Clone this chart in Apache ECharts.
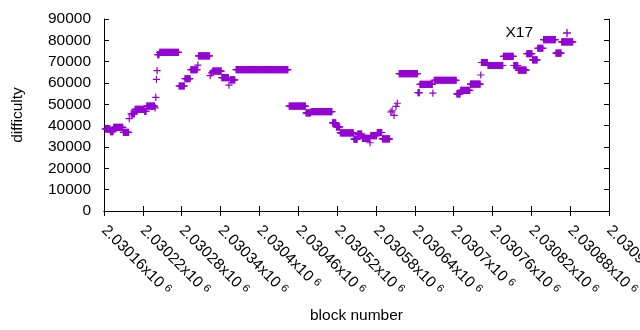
<!DOCTYPE html>
<html>
<head>
<meta charset="utf-8">
<script src="https://cdn.jsdelivr.net/npm/echarts@6/dist/echarts.min.js"></script>
<style>
html, body { margin: 0; padding: 0; background: #fff; }
#chart { width: 640px; height: 330px; }
</style>
</head>
<body>
<div id="chart"></div>
<script>
// runs of equal difficulty: first block, last block, difficulty
var runFrom = [2030162, 2030170, 2030175, 2030190, 2030199, 2030202, 2030208, 2030223, 2030226, 2030239,
    2030240, 2030241, 2030242, 2030243, 2030246, 2030276, 2030285, 2030294, 2030305, 2030306,
    2030324, 2030326, 2030328, 2030342, 2030353, 2030355, 2030364, 2030446, 2030472, 2030480,
    2030513, 2030519, 2030525, 2030546, 2030552, 2030559, 2030571, 2030572, 2030582, 2030590,
    2030603, 2030605, 2030608, 2030611, 2030613, 2030616, 2030645, 2030648, 2030668, 2030670,
    2030705, 2030711, 2030726, 2030742, 2030743, 2030753, 2030777, 2030793, 2030800, 2030813,
    2030822, 2030830, 2030839, 2030858, 2030867];
var runTo = [2030169, 2030174, 2030189, 2030198, 2030199, 2030207, 2030222, 2030225, 2030238, 2030239,
    2030240, 2030241, 2030242, 2030245, 2030275, 2030284, 2030293, 2030304, 2030305, 2030323,
    2030324, 2030326, 2030341, 2030352, 2030353, 2030362, 2030444, 2030471, 2030479, 2030512,
    2030518, 2030524, 2030545, 2030551, 2030558, 2030570, 2030571, 2030581, 2030589, 2030601,
    2030603, 2030605, 2030608, 2030611, 2030613, 2030644, 2030647, 2030667, 2030668, 2030704,
    2030710, 2030725, 2030741, 2030742, 2030752, 2030776, 2030792, 2030799, 2030812, 2030821,
    2030829, 2030838, 2030857, 2030866, 2030884];
var runDifficulty = [38500, 37200, 39200, 36900, 43300, 45500, 47600, 46700, 49200, 48300,
    53300, 61700, 65800, 73300, 74400, 58600, 62000, 66200, 68400, 72700,
    63500, 64700, 65600, 62500, 59000, 61500, 66300, 49200, 46000, 46600,
    41300, 39400, 36600, 33700, 36000, 34000, 32000, 35300, 36800, 33800,
    46400, 46900, 44800, 49000, 50500, 64400, 55500, 59400, 55300, 61300,
    54900, 56500, 59500, 63750, 69600, 68200, 72500, 68200, 66000, 73700,
    70800, 76300, 80300, 74000, 79300];

var xMin = 2030160, xMax = 2030940, xStep = 60;
var yMin = 0, yMax = 90000, yStep = 10000;

var points = [];
for (var i = 0; i < runFrom.length; i++) {
    for (var b = runFrom[i]; b <= runTo[i]; b++) {
        points.push([b, runDifficulty[i]]);
    }
}

var font = 'Liberation Sans, Arial, sans-serif';
var plus = 'path://M3,0H4.2V3H7.2V4.2H4.2V7.2H3V4.2H0V3H3Z';

var chart = echarts.init(document.getElementById('chart'));

var tickStyle = { inside: true, length: 5, lineStyle: { color: '#000', width: 1 } };
var lineStyle = { show: true, lineStyle: { color: '#000', width: 1 } };

chart.setOption({
    animation: false,
    textStyle: { fontFamily: font, color: '#000' },
    grid: { left: 104, right: 31, top: 19, bottom: 119, outerBoundsMode: 'none' },
    legend: {
        data: ['X17'],
        right: 64,
        top: 20,
        align: 'right',
        icon: plus,
        itemWidth: 8,
        itemHeight: 8,
        textStyle: { fontFamily: font, fontSize: 15.5, color: '#000', padding: [0, 25, 0, 0] }
    },
    xAxis: [
        {
            type: 'value',
            min: xMin, max: xMax, interval: xStep,
            name: 'block number',
            nameLocation: 'middle',
            nameGap: 97,
            nameTextStyle: { fontFamily: font, fontSize: 15.5, color: '#000' },
            axisLine: lineStyle,
            axisTick: tickStyle,
            splitLine: { show: false },
            axisLabel: {
                rotate: -45,
                margin: 17,
                showMinLabel: true,
                showMaxLabel: true,
                formatter: function (v) {
                    return '{m|' + parseFloat((v / 1e6).toFixed(5)) + 'x10}{s|6}';
                },
                rich: {
                    m: { fontFamily: font, fontSize: 15.5, color: '#000' },
                    s: { fontFamily: font, fontSize: 11, color: '#000', padding: [0, 0, 0, 4], verticalAlign: 'top' }
                }
            }
        },
        {
            type: 'value',
            position: 'top',
            min: xMin, max: xMax, interval: xStep,
            axisLine: lineStyle,
            axisTick: tickStyle,
            axisLabel: { show: false },
            splitLine: { show: false }
        }
    ],
    yAxis: [
        {
            type: 'value',
            min: yMin, max: yMax, interval: yStep,
            name: 'difficulty',
            nameLocation: 'middle',
            nameGap: 78,
            nameRotate: 90,
            nameTextStyle: { fontFamily: font, fontSize: 15.5, color: '#000' },
            axisLine: lineStyle,
            axisTick: tickStyle,
            splitLine: { show: false },
            axisLabel: {
                margin: 13, fontFamily: font, fontSize: 15.5, color: '#000',
                formatter: function (v) { return String(v); }
            }
        },
        {
            type: 'value',
            position: 'right',
            min: yMin, max: yMax, interval: yStep,
            axisLine: lineStyle,
            axisTick: tickStyle,
            axisLabel: { show: false },
            splitLine: { show: false }
        }
    ],
    series: [{
        name: 'X17',
        type: 'scatter',
        data: points,
        symbol: plus,
        symbolSize: 7.2,
        itemStyle: { color: '#9400d3', opacity: 1 }
    }]
});
</script>
</body>
</html>
